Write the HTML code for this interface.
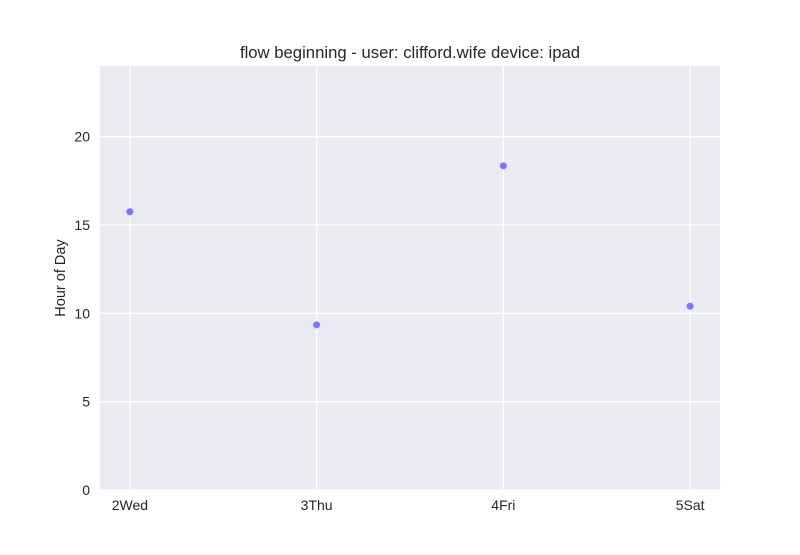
<!DOCTYPE html>
<html><head><meta charset="utf-8"><style>
body{margin:0;background:#fff;font-family:"Liberation Sans",sans-serif;}
</style></head><body>
<svg id="chart" width="800" height="550" xmlns="http://www.w3.org/2000/svg">
<rect x="0" y="0" width="800" height="550" fill="#fff"/>
<rect x="100" y="66" width="620" height="424" fill="#eaeaf2"/>
<g id="grid"></g><g id="ticks"></g><g id="points"></g>
<text x="410" y="58" text-anchor="middle" font-size="16.7" fill="#262626">flow beginning - user: clifford.wife device: ipad</text>
<text transform="translate(65,278) rotate(-90)" text-anchor="middle" font-size="14.5" fill="#262626">Hour of Day</text>
</svg>
<script>
const categories = ["2Wed","3Thu","4Fri","5Sat"];
const hours = [15.75, 9.35, 18.35, 10.4];
const yTicks = [0,5,10,15,20];
const NS="http://www.w3.org/2000/svg";
const L=100,R=720,T=66,B=490,yMax=24,xMin=-0.16,xMax=3.16;
const xs=i=>L+(i-xMin)/(xMax-xMin)*(R-L);
const ys=v=>B-v/yMax*(B-T);
function mk(tag,attrs,parent,txt){const e=document.createElementNS(NS,tag);for(const k in attrs)e.setAttribute(k,attrs[k]);if(txt!=null)e.textContent=txt;document.getElementById(parent).appendChild(e);return e;}
yTicks.forEach(v=>{
 const g=mk('line',{x1:L,x2:R,y1:ys(v),y2:ys(v),stroke:'#fff','stroke-width':1.3},'grid');
 
 
 const t=mk('text',{x:L-10,y:ys(v)+5,'text-anchor':'end','font-size':14,fill:'#262626'},'ticks',String(v));
 
 
});
categories.forEach((c,i)=>{
 const g=mk('line',{x1:xs(i),x2:xs(i),y1:T,y2:B,stroke:'#fff','stroke-width':1.3},'grid');
 
 
 const t=mk('text',{x:xs(i),y:B+20,'text-anchor':'middle','font-size':14,fill:'#262626'},'ticks',c);
 
 
});
hours.forEach((h,i)=>{
 const p=mk('circle',{cx:xs(i),cy:ys(h),r:3.5,fill:'#7878f2'},'points');
 
 
});
</script>
</body></html>
